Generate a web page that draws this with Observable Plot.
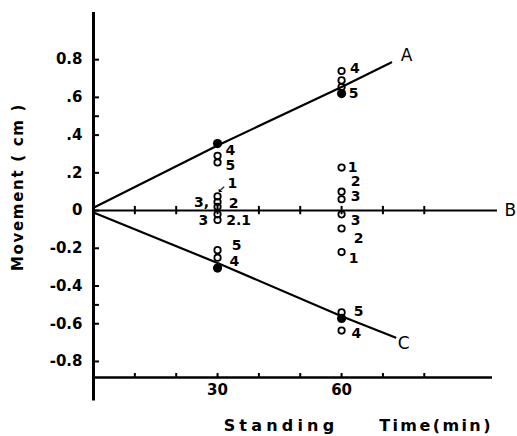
<!DOCTYPE html>
<html>
<head>
<meta charset="utf-8">
<script src="https://cdn.jsdelivr.net/npm/d3@7"></script>
<script src="https://cdn.jsdelivr.net/npm/@observablehq/plot@0.6"></script>
<style>
  html, body { margin: 0; padding: 0; background: #fff; }
  svg { display: block; }
</style>
</head>
<body>
<div id="chart"></div>
<script>
// ---- Data ----
const xDomain = [0, 96.5];
const yDomain = [-0.885, 1.05];
const yAxisExtent = [-1.01, 1.05];

const xTicks = [10, 20, 30, 40, 50, 60, 70, 80];
const xTickLabels = ["", "", "30", "", "", "60", "", ""];
const yTicks = [0.8, 0.6, 0.5, 0.4, 0.2, 0, -0.2, -0.4, -0.5, -0.6, -0.8];
const yTickLabels = ["0.8", ".6", "", ".4", ".2", "0", "-0.2", "-0.4", "", "-0.6", "-0.8"];

// Fitted lines A (up), C (down); B is the zero line
const lineATime = [0, 30, 60, 72];
const lineAValue = [0.015, 0.345, 0.655, 0.785];
const lineCTime = [0, 30, 60, 73];
const lineCValue = [-0.01, -0.278, -0.56, -0.673];
const lineBEnd = 97.7;

// Individual observations (open circles)
const open30 = [0.29, 0.255, 0.075, 0.045, 0.02, -0.02, -0.05, -0.21, -0.25];
const open60 = [0.74, 0.69, 0.655, 0.228, 0.10, 0.06, -0.02, -0.095, -0.22, -0.54, -0.636];
// Means (filled dots)
const filled30 = [0.355, -0.305];
const filled60 = [0.62, -0.572];

// Specimen numbers beside the points
const labelText  = ["4", "5", "1", "3,", "2", "3", "2.1", "5", "4",
                    "4", "5", "1", "2", "3", "3", "2", "1", "5", "4"];
const labelTime  = [33.1, 33.1, 33.6, 26.1, 33.9, 26.6, 35.1, 34.6, 34.1,
                    63.2, 62.9, 62.7, 63.4, 63.4, 63.4, 64.1, 62.9, 64.1, 63.6];
const labelValue = [0.32, 0.24, 0.142, 0.042, 0.04, -0.053, -0.053, -0.185, -0.27,
                    0.752, 0.62, 0.228, 0.152, 0.072, -0.053, -0.148, -0.254, -0.535, -0.652];
// small pointer mark next to specimen 1 at 30 min
const pointerText = ["↙"];
const pointerTime = [31.0];
const pointerValue = [0.108];

const lineLabelText  = ["A", "B", "C"];
const lineLabelTime  = [75.7, 100.8, 75];
const lineLabelValue = [0.82, 0, -0.705];

const xTitleWords = ["Standing", "Time(min)"];
const yTitle = "Movement ( cm )";

// ---- Tables built from the arrays ----
const lineA = lineATime.map((t, i) => ({t, v: lineAValue[i]}));
const lineC = lineCTime.map((t, i) => ({t, v: lineCValue[i]}));
const openPts = [...open30.map(v => ({t: 30, v})), ...open60.map(v => ({t: 60, v}))];
const filledPts = [...filled30.map(v => ({t: 30, v})), ...filled60.map(v => ({t: 60, v}))];
const labels = labelText.map((s, i) => ({s, t: labelTime[i], v: labelValue[i]}));
const pointers = pointerText.map((s, i) => ({s, t: pointerTime[i], v: pointerValue[i]}));
const lineLabels = lineLabelText.map((s, i) => ({s, t: lineLabelTime[i], v: lineLabelValue[i]}));
const xLabelOf = new Map(xTicks.map((d, i) => [d, xTickLabels[i]]));
const yLabelOf = new Map(yTicks.map((d, i) => [d, yTickLabels[i]]));

const font = "DejaVu Sans";
const titleStyle = {fontSize: 16, fontWeight: "bold", lineAnchor: "middle", textAnchor: "middle", fill: "#000"};

const chart = Plot.plot({
  width: 517,
  height: 436,
  marginLeft: 93,
  marginRight: 25,
  marginTop: 12,
  marginBottom: 59,
  style: {fontFamily: font, background: "#fff", color: "#000", overflow: "visible"},
  x: {domain: xDomain},
  y: {domain: yDomain},
  marks: [
    // axes lines
    Plot.ruleX([xDomain[0]], {y1: yAxisExtent[0], y2: yAxisExtent[1], strokeWidth: 3}),
    Plot.ruleY([yDomain[0]], {x1: xDomain[0], x2: xDomain[1], strokeWidth: 2.5}),
    // line B with its ticks
    Plot.ruleY([0], {x1: 0, x2: lineBEnd, strokeWidth: 2}),
    Plot.ruleX(xTicks, {x: d => d, y1: -0.022, y2: 0.022, strokeWidth: 2}),
    Plot.axisY(yTicks, {
      anchor: "left", tickSize: -6, tickPadding: 17, strokeWidth: 2,
      tickFormat: d => yLabelOf.get(d), fontSize: 15, fontWeight: "bold", label: null
    }),
    Plot.axisX(xTicks, {
      anchor: "bottom", tickSize: -4, tickPadding: 11, strokeWidth: 2,
      tickFormat: d => xLabelOf.get(d), fontSize: 15, fontWeight: "bold", label: null
    }),
    Plot.line(lineA, {x: "t", y: "v", stroke: "#000", strokeWidth: 2.2}),
    Plot.line(lineC, {x: "t", y: "v", stroke: "#000", strokeWidth: 2.2}),
    Plot.dot(openPts, {x: "t", y: "v", r: 3.2, stroke: "#000", strokeWidth: 1.8, fill: "none"}),
    Plot.dot(filledPts, {x: "t", y: "v", r: 4.6, fill: "#000", stroke: "none"}),
    Plot.text(labels, {x: "t", y: "v", text: "s", fontSize: 14, fontWeight: "bold", fill: "#000",
      textAnchor: "middle", lineAnchor: "middle"}),
    Plot.text(pointers, {x: "t", y: "v", text: "s", fontSize: 10, fontWeight: "bold", fill: "#000",
      textAnchor: "middle", lineAnchor: "middle"}),
    Plot.text(lineLabels, {x: "t", y: "v", text: "s", fontSize: 17, fill: "#000", textAnchor: "middle", lineAnchor: "middle"}),
    Plot.text([xTitleWords[0]], {frameAnchor: "bottom", text: d => d, dx: -12, dy: 48, ...titleStyle}),
    Plot.text([xTitleWords[1]], {frameAnchor: "bottom", text: d => d, dx: 143, dy: 48, ...titleStyle}),
    Plot.text([yTitle], {frameAnchor: "left", text: d => d, dx: -75, dy: -8, rotate: -90, ...titleStyle, fontSize: 15})
  ]
});

// letter spacing of the titles (not a Plot text option)
const spacingOf = new Map([[xTitleWords[0], "4.2px"], [xTitleWords[1], "2.4px"], [yTitle, "1.7px"]]);
chart.querySelectorAll("text").forEach(t => {
  const s = spacingOf.get(t.textContent);
  if (s) t.setAttribute("letter-spacing", s);
});
document.getElementById("chart").appendChild(chart);
</script>
</body>
</html>
